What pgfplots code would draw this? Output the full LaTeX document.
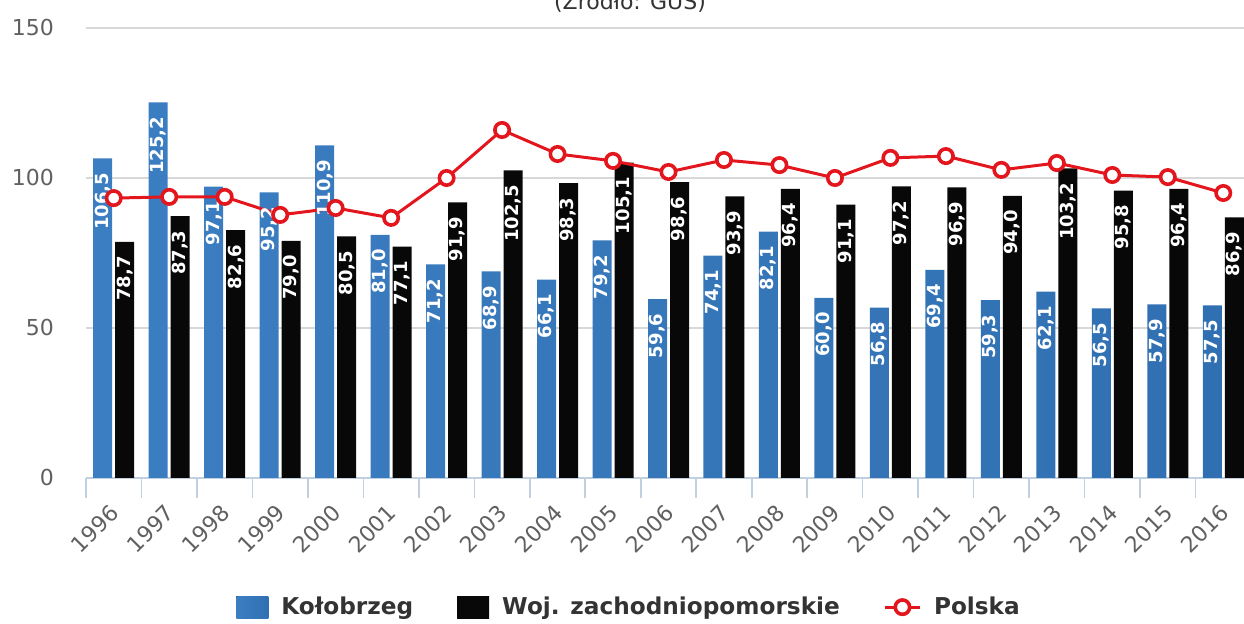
\documentclass[border=0pt]{standalone}
\usepackage{pgfplots}
\pgfplotsset{compat=1.18}
\usepackage{fontspec}
\setmainfont{DejaVu Sans}

\definecolor{kolL}{HTML}{3C7EC2}
\definecolor{kolM}{HTML}{6AAAE4}
\definecolor{kolR}{HTML}{3070B2}
\definecolor{wojL}{HTML}{080808}
\definecolor{wojM}{HTML}{3A3A3A}
\definecolor{wojR}{HTML}{080808}
\definecolor{polred}{HTML}{E3161E}
\definecolor{gridc}{HTML}{D8D8D8}
\definecolor{axisc}{HTML}{C0D0E0}
\definecolor{tickc}{HTML}{606060}
\definecolor{txt}{HTML}{333333}

\pgfplotsset{
  squarelegend/.style={legend image code/.code={\fill[##1] (0pt,-5.5pt) rectangle (16pt,5.5pt);}},
  barlabels/.style={
    nodes near coords={\pgfmathprintnumber[fixed,fixed zerofill,precision=1,use comma,assume math mode=true]{\pgfplotspointmeta}},
    nodes near coords align={anchor=east},
    every node near coord/.append style={xshift=#1, yshift=-5pt, rotate=90, anchor=east, inner xsep=2pt,
      text=white, font=\bfseries\fontsize{9}{10}\selectfont}},
}

% values per year, 1996..2016 at x = 0..20
\pgfplotstableread{
x kol   woj   pol
0  106.5 78.7  93.3
1  125.2 87.3  93.7
2  97.1  82.6  93.7
3  95.2  79.0  87.7
4  110.9 80.5  90.0
5  81.0  77.1  86.7
6  71.2  91.9  100.0
7  68.9  102.5 116.0
8  66.1  98.3  108.0
9  79.2  105.1 105.7
10 59.6  98.6  102.0
11 74.1  93.9  106.0
12 82.1  96.4  104.3
13 60.0  91.1  100.0
14 56.8  97.2  106.7
15 69.4  96.9  107.3
16 59.3  94.0  102.7
17 62.1  103.2 105.0
18 56.5  95.8  101.0
19 57.9  96.4  100.3
20 57.5  86.9  95.0
}\data

\begin{document}
\begin{tikzpicture}
\begin{axis}[
  name=ax,
  scale only axis,
  width=582.5pt, height=225pt,
  xmin=-0.5, xmax=20.5,
  ymin=0, ymax=150,
  axis x line*=bottom,
  axis y line*=left,
  x axis line style={draw=axisc, line width=0.8pt},
  y axis line style={draw=none},
  xtick={0,...,20},
  xticklabels={1996,1997,1998,1999,2000,2001,2002,2003,2004,2005,2006,2007,2008,2009,2010,2011,2012,2013,2014,2015,2016},
  minor xtick={-0.5,0.5,...,20.5},
  major tick length=0pt,
  minor tick length=10pt,
  tick align=outside,
  minor tick style={draw=axisc, line width=0.8pt},
  ytick={0,50,100,150},
  ymajorgrids,
  grid style={draw=gridc, line width=0.8pt},
  tick label style={font=\fontsize{11}{13}\selectfont, text=tickc},
  /pgf/number format/assume math mode=true,
  yticklabel style={anchor=east, xshift=-12.5pt},
  xticklabel style={xshift=3pt, yshift=-13pt, rotate=45, anchor=east},
  legend columns=3,
  legend style={at={(0.467,-0.287)}, anchor=center, draw=none, fill=none,
    font=\bfseries\fontsize{11.6}{13}\selectfont, text=txt,
    /tikz/every odd column/.append style={column sep=4.5pt},
    /tikz/every even column/.append style={column sep=20pt}},
  legend cell align=left,
]
\addplot[ybar, bar width=9.5pt, bar shift=-5.5pt, draw=none,
  left color=kolL, middle color=kolM, right color=kolR,
  barlabels=-5.5pt, squarelegend]
  table[x=x, y=kol] {\data};
\addlegendentry{Kołobrzeg}
\addplot[ybar, bar width=9.5pt, bar shift=5.5pt, draw=none,
  left color=wojL, middle color=wojM, right color=wojR,
  barlabels=5.5pt, squarelegend]
  table[x=x, y=woj] {\data};
\addlegendentry{Woj. zachodniopomorskie}
\addplot[sharp plot, draw=polred, line width=1.5pt,
  mark=*, mark size=3.6pt,
  mark options={fill=white, draw=polred, line width=1.8pt}]
  table[x=x, y=pol] {\data};
\addlegendentry{Polska}
\end{axis}
\node[anchor=base, font=\fontsize{11}{13}\selectfont, text=txt]
  at ([shift={(272pt,234pt)}]ax.south west) {(Źródło: GUS)};
\pgfresetboundingbox
\path[use as bounding box] ([shift={(-43pt,-73pt)}]ax.south west) rectangle ([shift={(579pt,239pt)}]ax.south west);
\end{tikzpicture}
\end{document}
